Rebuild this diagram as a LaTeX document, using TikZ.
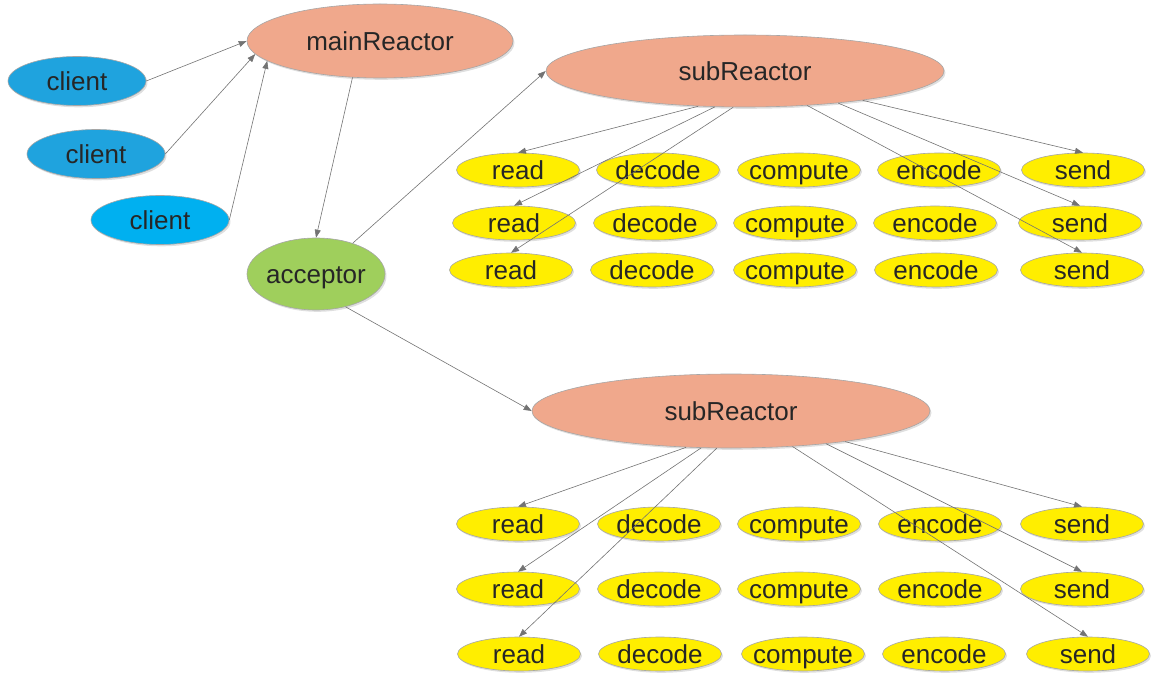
\documentclass[tikz,border=0pt]{standalone}
\usepackage{fontspec}
\setmainfont{Liberation Sans}
\usetikzlibrary{shapes.geometric,arrows.meta,shadows}
\definecolor{cblue}{HTML}{1FA3DE}
\definecolor{cblueb}{HTML}{00B0F0}
\definecolor{salmon}{HTML}{F0A88C}
\definecolor{cgreen}{HTML}{9FCF5C}
\definecolor{cyel}{HTML}{FFEE00}
\definecolor{txt}{HTML}{262626}
\newcommand\lbl[1]{\smash{\makebox[0pt]{\raisebox{-0.36em}{#1}}}}
\begin{document}
\begin{tikzpicture}[x=1pt,y=-1pt,
  base/.style={ellipse, inner sep=0pt, draw=black!35, line width=0.6pt,
    font=\fontsize{26}{30}\selectfont, text=txt,
    drop shadow={shadow xshift=1.5pt,shadow yshift=-1.8pt,opacity=0.25}},
  clientnode/.style={base, fill=cblue, minimum width=138pt, minimum height=49pt},
  reactor/.style={base, fill=salmon},
  accnode/.style={base, fill=cgreen, minimum width=138pt, minimum height=72pt},
  yel/.style={base, fill=cyel, minimum width=123pt, minimum height=34pt,
    font=\fontsize{26}{30}\selectfont},
  arr/.style={draw=black!55, line width=0.6pt, -{Triangle[length=8pt,width=6pt]}}]
\useasboundingbox (0,0) rectangle (1165,676);

\node[clientnode] (cl1) at (77,81) {\lbl{client}};
\node[clientnode] (cl2) at (96,154) {\lbl{client}};
\node[clientnode, fill=cblueb] (cl3) at (160,220) {\lbl{client}};
\node[reactor, minimum width=266pt, minimum height=74pt] (main) at (380,41) {\lbl{mainReactor}};
\node[accnode] (acc) at (316,274) {\lbl{acceptor}};
\node[reactor, minimum width=398pt, minimum height=72pt] (sub1) at (745,71) {\lbl{subReactor}};
\node[reactor, minimum width=398pt, minimum height=74pt] (sub2) at (731,411) {\lbl{subReactor}};

% top grid
\node[yel] (T1a) at (518,170) {\lbl{read}};
\node[yel] (T1b) at (658,170) {\lbl{decode}};
\node[yel] (T1c) at (799,170) {\lbl{compute}};
\node[yel] (T1d) at (939,170) {\lbl{encode}};
\node[yel] (T1e) at (1083,170) {\lbl{send}};
\node[yel] (T2a) at (514,223) {\lbl{read}};
\node[yel] (T2b) at (655,223) {\lbl{decode}};
\node[yel] (T2c) at (795,223) {\lbl{compute}};
\node[yel] (T2d) at (935,223) {\lbl{encode}};
\node[yel] (T2e) at (1080,223) {\lbl{send}};
\node[yel] (T3a) at (511,270) {\lbl{read}};
\node[yel] (T3b) at (652,270) {\lbl{decode}};
\node[yel] (T3c) at (795,270) {\lbl{compute}};
\node[yel] (T3d) at (936,270) {\lbl{encode}};
\node[yel] (T3e) at (1082,270) {\lbl{send}};

% bottom grid
\node[yel] (B1a) at (518,524) {\lbl{read}};
\node[yel] (B1b) at (659,524) {\lbl{decode}};
\node[yel] (B1c) at (799,524) {\lbl{compute}};
\node[yel] (B1d) at (940,524) {\lbl{encode}};
\node[yel] (B1e) at (1082,524) {\lbl{send}};
\node[yel] (B2a) at (518,589) {\lbl{read}};
\node[yel] (B2b) at (659,589) {\lbl{decode}};
\node[yel] (B2c) at (799,589) {\lbl{compute}};
\node[yel] (B2d) at (940,589) {\lbl{encode}};
\node[yel] (B2e) at (1082,589) {\lbl{send}};
\node[yel] (B3a) at (519,654) {\lbl{read}};
\node[yel] (B3b) at (660,654) {\lbl{decode}};
\node[yel] (B3c) at (803,654) {\lbl{compute}};
\node[yel] (B3d) at (944,654) {\lbl{encode}};
\node[yel] (B3e) at (1088,654) {\lbl{send}};

% connectors
\draw[arr] (cl1.east) -- (main.180);
\draw[arr] (cl2.east) -- (main.186.4);
\draw[arr] (cl3.east) -- (main.190.9);
\draw[arr] (main.233) -- (acc.north);
\draw[arr] (acc.40) -- (sub1.west);
\draw[arr] (acc.312) -- (sub2.west);

\draw[arr] (sub1.217.7) -- (T1a.north);
\draw[arr] (sub1.230.5) -- (T2a.north);
\draw[arr] (sub1.252) -- (T3a.north);
\draw[arr] (sub1.346.1) -- (T1e.north);
\draw[arr] (sub1.341.7) -- (T2e.north);
\draw[arr] (sub1.331.3) -- (T3e.north);

\draw[arr] (sub2.219.7) -- (B1a.north);
\draw[arr] (sub2.231.5) -- (B2a.north);
\draw[arr] (sub2.249) -- (B3a.north);
\draw[arr] (sub2.345.8) -- (B1e.north);
\draw[arr] (sub2.341.4) -- (B2e.north);
\draw[arr] (sub2.330.5) -- (B3e.north);
\end{tikzpicture}
\end{document}
